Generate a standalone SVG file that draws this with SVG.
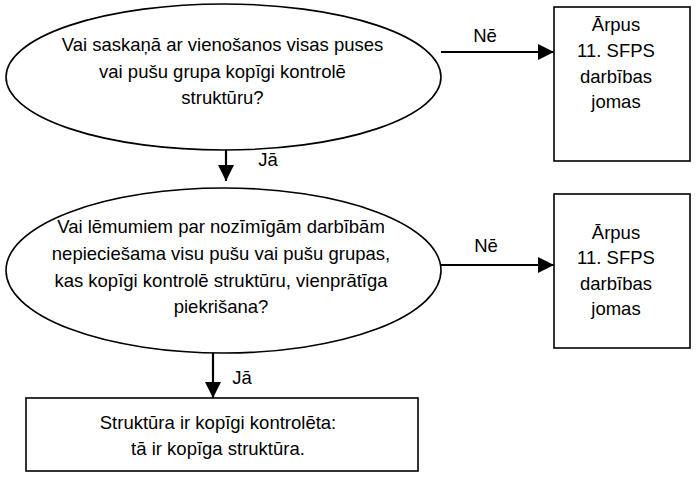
<svg xmlns="http://www.w3.org/2000/svg" width="696" height="477" viewBox="0 0 696 477">
<style>
.shape{fill:#fff;stroke:#000;stroke-width:1.6}
.t{font-family:"Liberation Sans",Arial,sans-serif;font-size:18.5px;fill:#000;text-anchor:middle}
.conn{stroke:#000;stroke-width:2.2;fill:none}
</style>
<defs>
<marker id="ah" markerUnits="userSpaceOnUse" markerWidth="18" markerHeight="18" refX="16" refY="8" orient="auto">
<path d="M0,0 L16,8 L0,16 Z" fill="#000"/>
</marker>
</defs>
<rect width="696" height="477" fill="#fff"/>
<g id="connectors">
<line class="conn" x1="226" y1="130" x2="226" y2="181" marker-end="url(#ah)"/>
<text class="t" x="268" y="166">Jā</text>
<line class="conn" x1="213" y1="348" x2="213" y2="398" marker-end="url(#ah)"/>
<text class="t" x="242" y="384">Jā</text>
<line class="conn" x1="441" y1="52" x2="554" y2="52" marker-end="url(#ah)"/>
<text class="t" x="485" y="42">Nē</text>
<line class="conn" x1="441" y1="265" x2="554" y2="265" marker-end="url(#ah)"/>
<text class="t" x="486" y="252">Nē</text>
</g>
<g id="q1">
<ellipse class="shape" cx="223.5" cy="77" rx="217.5" ry="73"/>
<text class="t" x="222.5" y="51">Vai saskaņā ar vienošanos visas puses</text>
<text class="t" x="222.5" y="77.5">vai pušu grupa kopīgi kontrolē</text>
<text class="t" x="222.5" y="104">struktūru?</text>
</g>
<g id="q2">
<ellipse class="shape" cx="223.5" cy="270.5" rx="217.5" ry="82.5"/>
<text class="t" x="221" y="233">Vai lēmumiem par nozīmīgām darbībām</text>
<text class="t" x="221" y="260">nepieciešama visu pušu vai pušu grupas,</text>
<text class="t" x="221" y="286.5">kas kopīgi kontrolē struktūru, vienprātīga</text>
<text class="t" x="221" y="313">piekrišana?</text>
</g>
<g id="out1">
<rect class="shape" x="554" y="7" width="136" height="154"/>
<text class="t" x="616" y="31">Ārpus</text>
<text class="t" x="616" y="57">11. SFPS</text>
<text class="t" x="616" y="83">darbības</text>
<text class="t" x="616" y="108">jomas</text>
</g>
<g id="out2">
<rect class="shape" x="554" y="194" width="136" height="154"/>
<text class="t" x="616" y="239">Ārpus</text>
<text class="t" x="616" y="264">11. SFPS</text>
<text class="t" x="616" y="290">darbības</text>
<text class="t" x="616" y="315">jomas</text>
</g>
<g id="result">
<rect class="shape" x="26" y="398" width="392" height="73"/>
<text class="t" x="218" y="429">Struktūra ir kopīgi kontrolēta:</text>
<text class="t" x="218" y="455">tā ir kopīga struktūra.</text>
</g>
</svg>
